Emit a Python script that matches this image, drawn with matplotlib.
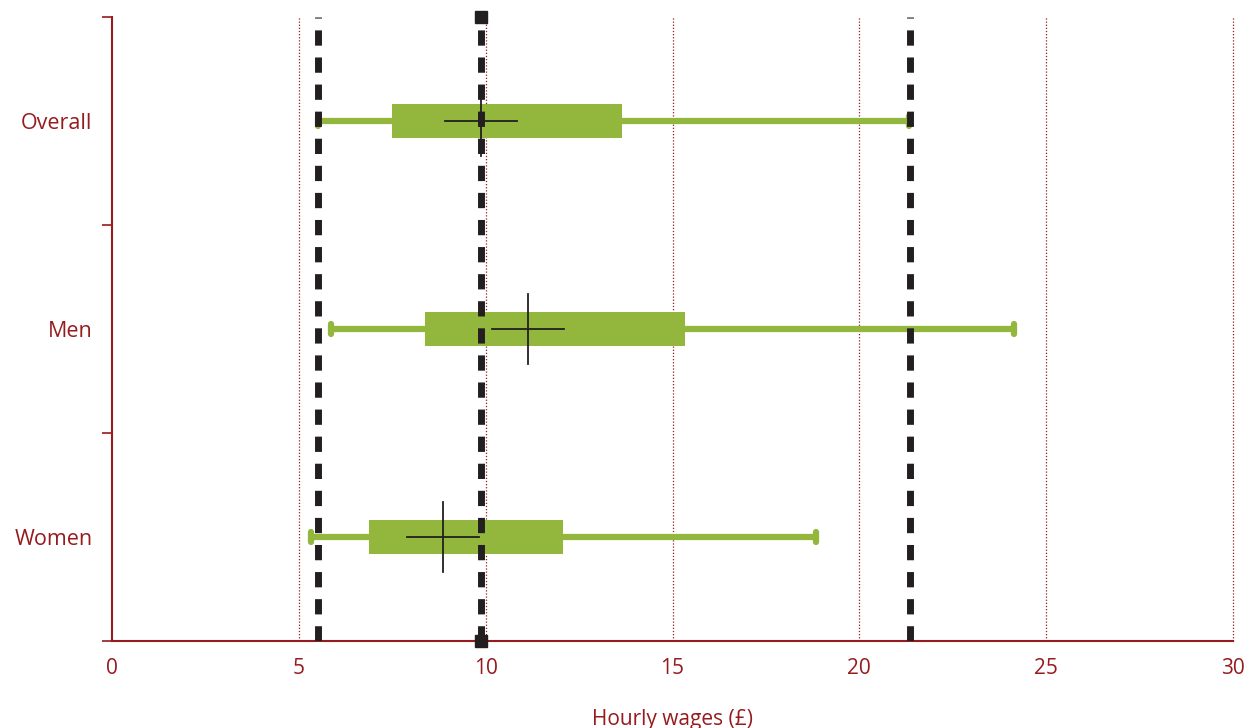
import matplotlib.pyplot as plt
import numpy as np

plt.rcParams['font.family'] = ['Open Sans', 'DejaVu Sans']

groups = ['Overall', 'Men', 'Women']
whisker_low = [5.51, 5.86, 5.33]
box_low = [7.49, 8.38, 6.88]
box_high = [13.65, 15.33, 12.07]
whisker_high = [21.33, 24.14, 18.84]
mean = [9.87, 11.13, 8.86]
mean_err = [0.97, 0.97, 0.97]
ref_lines = [5.51, 9.87, 21.35]

red = '#951B1E'
green = '#93B73D'

fig = plt.figure(figsize=(12.49, 7.28), dpi=100)
ax = fig.add_axes([0.0897, 0.1195, 0.8975, 0.857])

ypos = [2.5, 1.5, 0.5]
for i, y in enumerate(ypos):
    ax.plot([whisker_low[i], whisker_high[i]], [y, y], color=green, lw=4.5,
            solid_capstyle='round', zorder=2)
    ax.plot([whisker_low[i]] * 2, [y - 0.025, y + 0.025], color=green, lw=4.5,
            solid_capstyle='round', zorder=2)
    ax.plot([whisker_high[i]] * 2, [y - 0.025, y + 0.025], color=green, lw=4.5,
            solid_capstyle='round', zorder=2)
    ax.barh(y, box_high[i] - box_low[i], left=box_low[i], height=0.165,
            color=green, zorder=3)

for x in ref_lines:
    ax.plot([x, x], [0, 3], color='#231F20', lw=5, ls=(0, (2.2, 1.7)), zorder=4)
ax.plot([ref_lines[1]] * 2, [0, 3], ls='none', marker='s', ms=9,
        color='#231F20', zorder=4, clip_on=False)

for i, y in enumerate(ypos):
    ax.plot([mean[i] - mean_err[i], mean[i] + mean_err[i]], [y, y],
            color='#231F20', lw=1.3, zorder=5)
    ax.plot([mean[i], mean[i]], [y - 0.17, y + 0.17], color='#231F20',
            lw=1.3, zorder=5)

ax.set_xlim(0, 30)
ax.set_ylim(0, 3)
ax.set_xticks(np.arange(0, 31, 5))
ax.set_yticks([0, 1, 2, 3])
ax.set_yticks(ypos, minor=True)
ax.set_yticklabels(['', '', '', ''])
ax.set_yticklabels(groups, minor=True)
ax.tick_params(axis='y', which='major', length=7, color=red, width=1.2)
ax.tick_params(axis='y', which='minor', length=0, pad=14, labelsize=15.5,
               labelcolor=red)
ax.tick_params(axis='x', length=0, pad=12, labelsize=15, labelcolor=red)

for x in np.arange(5, 31, 5):
    ax.axvline(x, color=red, lw=0.9, ls=(0, (1, 1.5)), zorder=1, clip_on=False)

for s in ['top', 'right']:
    ax.spines[s].set_visible(False)
for s in ['left', 'bottom']:
    ax.spines[s].set_color(red)
    ax.spines[s].set_linewidth(1.5)

ax.set_xlabel('Hourly wages (£)', color=red, fontsize=15, labelpad=22)

fig.savefig('out.png', dpi=100)
